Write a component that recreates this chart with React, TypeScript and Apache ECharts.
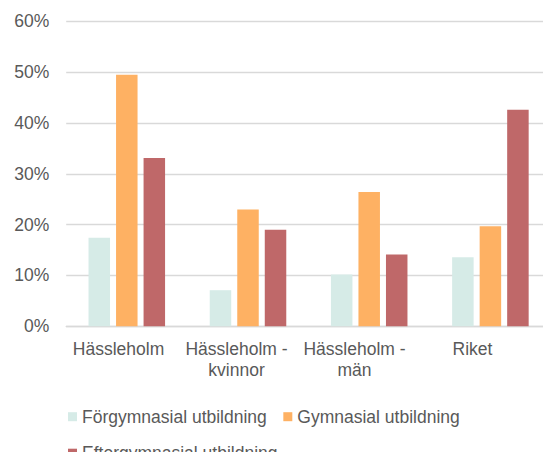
import React, { useEffect, useRef } from "react";
import * as echarts from "echarts";

const categories = ["Hässleholm", "Hässleholm -\nkvinnor", "Hässleholm -\nmän", "Riket"];
const seriesNames = ["Förgymnasial utbildning", "Gymnasial utbildning", "Eftergymnasial utbildning"];
const forgymnasial = [17.4, 7.1, 10.2, 13.6];
const gymnasial = [49.5, 23.0, 26.4, 19.7];
const eftergymnasial = [33.1, 19.0, 14.1, 42.6];
const colors = ["#D6EBE7", "#FEB163", "#BF6869"];

const FONT = "'Liberation Sans', Arial, sans-serif";
const TXT = "#595959";

export default function App() {
  const ref = useRef<HTMLDivElement>(null);
  useEffect(() => {
    const chart = echarts.init(ref.current!, null, { renderer: "svg" });
    const values = [forgymnasial, gymnasial, eftergymnasial];
    chart.setOption({
      animation: false,
      textStyle: { fontFamily: FONT },
      legend: {
        left: 68,
        top: 406.7,
        width: 420,
        padding: 0,
        itemWidth: 9,
        itemHeight: 9,
        itemGap: 16.5,
        icon: "rect",
        textStyle: { color: TXT, fontSize: 17.5, fontFamily: FONT, lineHeight: 20 },
        data: seriesNames,
      },
      grid: [
        { left: 66.2, width: 494.4, top: 21.3, bottom: 133.7, containLabel: false },
        { left: 59.5, width: 472, top: 21.3, bottom: 133.7, containLabel: false },
      ],
      xAxis: [
        {
          type: "category",
          gridIndex: 0,
          data: categories,
          axisLine: { show: true, lineStyle: { color: "#D9D9D9", width: 1.3 } },
          axisTick: { show: false },
          axisLabel: { show: false },
        },
        {
          type: "category",
          gridIndex: 1,
          data: categories,
          axisLine: { show: false },
          axisTick: { show: false },
          axisLabel: {
            color: TXT,
            fontSize: 17.5,
            fontFamily: FONT,
            lineHeight: 21,
            margin: 12,
            interval: 0,
          },
        },
      ],
      yAxis: [
        {
          type: "value",
          gridIndex: 0,
          min: 0,
          max: 60,
          interval: 10,
          axisLine: { show: false },
          axisTick: { show: false },
          splitLine: { lineStyle: { color: "#D9D9D9", width: 1.3 } },
          axisLabel: {
            color: TXT,
            fontSize: 17.5,
            fontFamily: FONT,
            margin: 17,
            formatter: "{value}%",
          },
        },
        {
          type: "value",
          gridIndex: 1,
          min: 0,
          max: 60,
          show: false,
        },
      ],
      series: seriesNames.map((name, i) => ({
        name,
        type: "bar",
        xAxisIndex: 0,
        yAxisIndex: 0,
        data: values[i],
        barWidth: 21.5,
        barGap: "28%",
        itemStyle: { color: colors[i] },
      })),
    });
    return () => chart.dispose();
  }, []);
  return <div ref={ref} style={{ width: 551, height: 460, margin: -8 }} />;
}
